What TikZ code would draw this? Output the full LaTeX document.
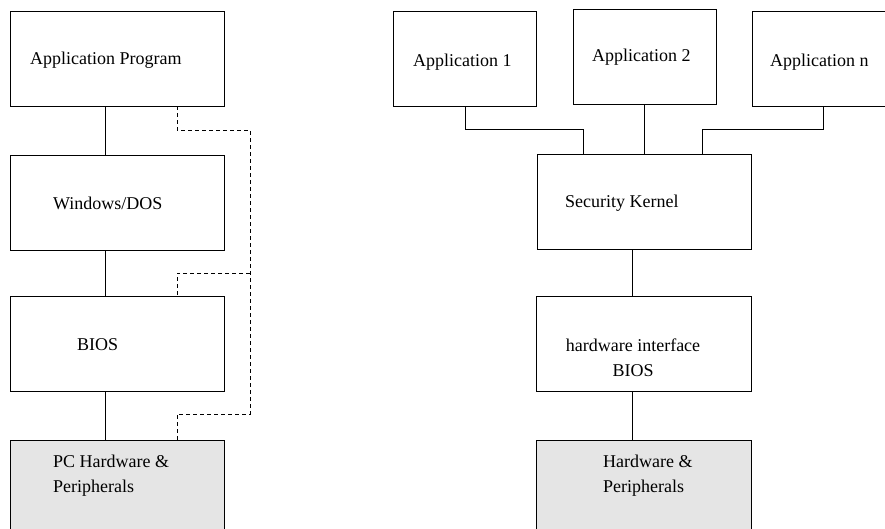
\documentclass[tikz,border=0pt]{standalone}
\usepackage{fontspec}
\setmainfont{Liberation Serif}
\begin{document}
\begin{tikzpicture}[x=1pt,y=-1pt,
    box/.style={draw,line width=.9pt,minimum width=214,minimum height=95,inner sep=0},
    appbox/.style={box,minimum width=143},
    hwbox/.style={box,fill=black!10},
    lbl/.style={inner sep=0,font=\fontsize{18}{25}\selectfont},
    link/.style={line width=.9pt},
    tap/.style={link,dash pattern=on 4pt off 3pt}]
    \useasboundingbox (0,0) rectangle (885,529);
    % left stack
    \node[box] (prog) at (117,58.5) {};
    \node[box] (win) at (117,202.5) {};
    \node[box] (bios) at (117,343.5) {};
    \node[hwbox] (pchw) at (117,487.5) {};
    \node[lbl,anchor=west] (progtxt) at (30,60) {Application Program};
    \node[lbl,anchor=west] (wintxt) at (53,203) {Windows/DOS};
    \node[lbl,anchor=west] (biostxt) at (77,345) {BIOS};
    \node[lbl,anchor=west,align=left] (pchwtxt) at (53,475.5) {PC Hardware \&\\Peripherals};
    \coordinate (lcol) at (105,0);
    \coordinate (ltap) at (177,0);
    \coordinate (r1) at (250,130);
    \coordinate (r2) at (250,273);
    \coordinate (r3) at (250,414);
    \draw[link] (prog.south -| lcol) -- (win.north -| lcol);
    \draw[link] (win.south -| lcol) -- (bios.north -| lcol);
    \draw[link] (bios.south -| lcol) -- (pchw.north -| lcol);
    \draw[tap] (prog.south -| ltap) |- (r1) -- (r3) -| (pchw.north -| ltap);
    \draw[tap] (r2) -| (bios.north -| ltap);
    % right stack
    \node[appbox] (app1) at (465,58.5) {};
    \node[appbox] (app2) at (644.5,56.5) {};
    \node[appbox] (appn) at (823.5,58.5) {};
    \node[box] (kern) at (644,202) {};
    \node[box,minimum width=215] (hwif) at (643.5,343.5) {};
    \node[hwbox,minimum width=215] (hw) at (643.5,487.5) {};
    \node[lbl,anchor=west] (app1txt) at (413,62) {Application 1};
    \node[lbl,anchor=west] (app2txt) at (592,57) {Application 2};
    \node[lbl,anchor=west] (appntxt) at (770,62) {Application n};
    \node[lbl,anchor=west] (kerntxt) at (565,203) {Security Kernel};
    \node[lbl,align=center] (hwiftxt) at (633,357.5) {hardware interface\\BIOS};
    \node[lbl,anchor=west,align=left] (hwtxt) at (603,475.5) {Hardware \&\\Peripherals};
    \coordinate (rcol) at (632,0);
    \coordinate (kl) at (583,129);
    \coordinate (kr) at (702,129);
    \draw[link] (app1.south) |- (kl) -- (kern.north -| kl);
    \draw[link] (app2.south) -- (app2.south |- kern.north);
    \draw[link] (appn.south) |- (kr) -- (kern.north -| kr);
    \draw[link] (kern.south -| rcol) -- (hwif.north -| rcol);
    \draw[link] (hwif.south -| rcol) -- (hw.north -| rcol);
\end{tikzpicture}
\end{document}
